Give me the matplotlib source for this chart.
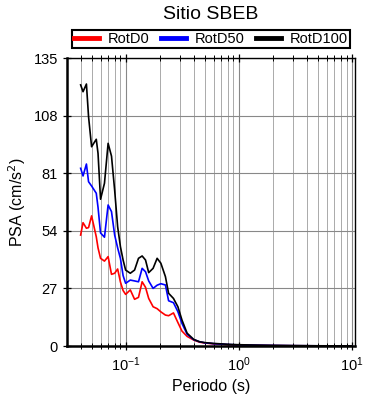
import matplotlib
matplotlib.use("Agg")
import matplotlib.pyplot as plt
from matplotlib.ticker import LogLocator, NullFormatter

plt.rcParams['font.family'] = ['Liberation Sans', 'DejaVu Sans']

periods = [0.040, 0.042, 0.045, 0.047, 0.050, 0.055, 0.057, 0.060, 0.065, 0.070,
           0.075, 0.080, 0.085, 0.090, 0.095, 0.100, 0.110, 0.120, 0.130, 0.140,
           0.150, 0.160, 0.175, 0.190, 0.205, 0.225, 0.240, 0.265, 0.290, 0.315,
           0.350, 0.400, 0.450, 0.500, 0.600, 0.700, 0.800, 1.0, 1.5, 2.0,
           3.0, 5.0, 7.5, 10.0]

rotd0 = [52.0, 57.8, 55.2, 55.5, 61.0, 51.2, 46.0, 41.1, 39.8, 41.9,
         33.6, 34.1, 36.1, 30.0, 26.0, 24.2, 26.3, 21.9, 22.8, 30.1,
         27.5, 22.3, 18.4, 17.5, 16.0, 14.5, 14.2, 15.5, 11.0, 7.0,
         4.5, 2.8, 1.8, 1.4, 1.0, 0.8, 0.6, 0.45, 0.3, 0.2,
         0.12, 0.07, 0.04, 0.03]

rotd50 = [83.3, 79.7, 85.3, 77.0, 75.0, 71.6, 65.0, 53.0, 51.0, 66.1,
          63.0, 52.0, 46.0, 41.0, 33.0, 29.4, 30.9, 30.5, 30.1, 36.4,
          34.8, 30.5, 27.0, 28.5, 29.2, 28.6, 21.2, 20.3, 16.1, 10.6,
          5.5, 3.0, 2.0, 1.5, 1.1, 0.9, 0.7, 0.5, 0.35, 0.25,
          0.15, 0.08, 0.05, 0.04]

rotd100 = [122.4, 119.2, 122.8, 107.5, 93.4, 96.9, 90.3, 68.8, 76.3, 95.0,
           89.0, 73.0, 55.9, 46.5, 40.3, 35.6, 34.1, 35.6, 41.1, 42.2,
           40.3, 34.4, 36.4, 41.1, 38.8, 32.5, 24.7, 22.3, 18.4, 12.2,
           6.0, 3.1, 2.0, 1.6, 1.2, 1.0, 0.8, 0.6, 0.4, 0.3,
           0.2, 0.1, 0.06, 0.05]

series_names = ['RotD0', 'RotD50', 'RotD100']
series_colors = ['#ff0000', '#0000ff', '#000000']
y_ticks = [0, 27, 54, 81, 108, 135]

fig = plt.figure(figsize=(3.9, 4.0), dpi=100)
ax = fig.add_axes([0.1718, 0.135, 0.7385, 0.72])

for vals, name, col in zip([rotd0, rotd50, rotd100], series_names, series_colors):
    ax.plot(periods, vals, color=col, lw=1.2, label=name)

ax.set_xscale('log')
ax.set_xlim(0.0303, 10.7)
ax.set_ylim(0, 135)
ax.set_yticks(y_ticks)
ax.xaxis.set_major_locator(LogLocator(base=10, numticks=10))
ax.xaxis.set_minor_locator(LogLocator(base=10, subs=range(2, 10), numticks=20))
ax.xaxis.set_minor_formatter(NullFormatter())

ax.grid(True, which='major', axis='both', color='#888888', lw=0.8)
ax.grid(True, which='minor', axis='x', color='#aaaaaa', lw=0.7)
ax.set_axisbelow(True)

ax.tick_params(which='both', direction='inout', top=True, right=False, labelsize=10.5)
ax.tick_params(which='major', length=6, width=0.9)
ax.tick_params(which='minor', length=4, width=0.7)

for s in ['left', 'bottom']:
    ax.spines[s].set_linewidth(1.8)
for s in ['top', 'right']:
    ax.spines[s].set_linewidth(1.0)

ax.set_xlabel('Periodo (s)', fontsize=11.5)
ax.set_ylabel('PSA (cm/s$^2$)', fontsize=11.5)
fig.text(0.5415, 0.963, 'Sitio SBEB', ha='center', va='center', fontsize=14)

leg = ax.legend(loc='center', bbox_to_anchor=(0.5, 1.066), ncol=3, frameon=True,
                fancybox=False, edgecolor='black', framealpha=1, fontsize=10.5,
                handlelength=1.7, handletextpad=0.6, columnspacing=0.8,
                borderpad=0.12, borderaxespad=0)
leg.get_frame().set_linewidth(1.5)
for h in leg.get_lines():
    h.set_linewidth(3.5)

fig.savefig('out.png', dpi=100)
